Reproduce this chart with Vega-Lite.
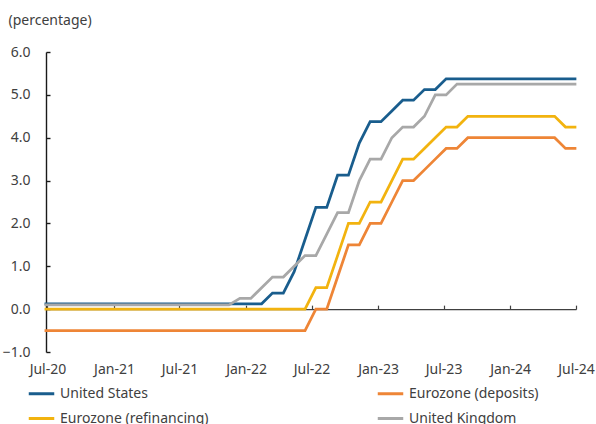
{
  "$schema": "https://vega.github.io/schema/vega-lite/v6.json",
  "width": 530,
  "height": 300,
  "autosize": "none",
  "padding": {"left": 46, "top": 52, "right": 20, "bottom": 72},
  "background": "white",
  "config": {"font": "Noto Sans", "view": {"stroke": null}},
  "data": {"values": [
    {"series":"Eurozone (deposits)","date":"2020-06-23","rate":-0.5},
    {"series":"Eurozone (deposits)","date":"2020-07-23","rate":-0.5},
    {"series":"Eurozone (deposits)","date":"2020-08-22","rate":-0.5},
    {"series":"Eurozone (deposits)","date":"2020-09-21","rate":-0.5},
    {"series":"Eurozone (deposits)","date":"2020-10-21","rate":-0.5},
    {"series":"Eurozone (deposits)","date":"2020-11-20","rate":-0.5},
    {"series":"Eurozone (deposits)","date":"2020-12-20","rate":-0.5},
    {"series":"Eurozone (deposits)","date":"2021-01-19","rate":-0.5},
    {"series":"Eurozone (deposits)","date":"2021-02-18","rate":-0.5},
    {"series":"Eurozone (deposits)","date":"2021-03-20","rate":-0.5},
    {"series":"Eurozone (deposits)","date":"2021-04-19","rate":-0.5},
    {"series":"Eurozone (deposits)","date":"2021-05-19","rate":-0.5},
    {"series":"Eurozone (deposits)","date":"2021-06-18","rate":-0.5},
    {"series":"Eurozone (deposits)","date":"2021-07-18","rate":-0.5},
    {"series":"Eurozone (deposits)","date":"2021-08-17","rate":-0.5},
    {"series":"Eurozone (deposits)","date":"2021-09-16","rate":-0.5},
    {"series":"Eurozone (deposits)","date":"2021-10-16","rate":-0.5},
    {"series":"Eurozone (deposits)","date":"2021-11-15","rate":-0.5},
    {"series":"Eurozone (deposits)","date":"2021-12-15","rate":-0.5},
    {"series":"Eurozone (deposits)","date":"2022-01-14","rate":-0.5},
    {"series":"Eurozone (deposits)","date":"2022-02-13","rate":-0.5},
    {"series":"Eurozone (deposits)","date":"2022-03-15","rate":-0.5},
    {"series":"Eurozone (deposits)","date":"2022-04-14","rate":-0.5},
    {"series":"Eurozone (deposits)","date":"2022-05-14","rate":-0.5},
    {"series":"Eurozone (deposits)","date":"2022-06-13","rate":-0.5},
    {"series":"Eurozone (deposits)","date":"2022-07-13","rate":0.0},
    {"series":"Eurozone (deposits)","date":"2022-08-12","rate":0.0},
    {"series":"Eurozone (deposits)","date":"2022-09-11","rate":0.75},
    {"series":"Eurozone (deposits)","date":"2022-10-11","rate":1.5},
    {"series":"Eurozone (deposits)","date":"2022-11-10","rate":1.5},
    {"series":"Eurozone (deposits)","date":"2022-12-10","rate":2.0},
    {"series":"Eurozone (deposits)","date":"2023-01-09","rate":2.0},
    {"series":"Eurozone (deposits)","date":"2023-02-08","rate":2.5},
    {"series":"Eurozone (deposits)","date":"2023-03-10","rate":3.0},
    {"series":"Eurozone (deposits)","date":"2023-04-09","rate":3.0},
    {"series":"Eurozone (deposits)","date":"2023-05-09","rate":3.25},
    {"series":"Eurozone (deposits)","date":"2023-06-08","rate":3.5},
    {"series":"Eurozone (deposits)","date":"2023-07-08","rate":3.75},
    {"series":"Eurozone (deposits)","date":"2023-08-07","rate":3.75},
    {"series":"Eurozone (deposits)","date":"2023-09-06","rate":4.0},
    {"series":"Eurozone (deposits)","date":"2023-10-06","rate":4.0},
    {"series":"Eurozone (deposits)","date":"2023-11-05","rate":4.0},
    {"series":"Eurozone (deposits)","date":"2023-12-05","rate":4.0},
    {"series":"Eurozone (deposits)","date":"2024-01-04","rate":4.0},
    {"series":"Eurozone (deposits)","date":"2024-02-03","rate":4.0},
    {"series":"Eurozone (deposits)","date":"2024-03-04","rate":4.0},
    {"series":"Eurozone (deposits)","date":"2024-04-03","rate":4.0},
    {"series":"Eurozone (deposits)","date":"2024-05-03","rate":4.0},
    {"series":"Eurozone (deposits)","date":"2024-06-02","rate":3.75},
    {"series":"Eurozone (deposits)","date":"2024-07-02","rate":3.75},
    {"series":"Eurozone (refinancing)","date":"2020-06-23","rate":0.0},
    {"series":"Eurozone (refinancing)","date":"2020-07-23","rate":0.0},
    {"series":"Eurozone (refinancing)","date":"2020-08-22","rate":0.0},
    {"series":"Eurozone (refinancing)","date":"2020-09-21","rate":0.0},
    {"series":"Eurozone (refinancing)","date":"2020-10-21","rate":0.0},
    {"series":"Eurozone (refinancing)","date":"2020-11-20","rate":0.0},
    {"series":"Eurozone (refinancing)","date":"2020-12-20","rate":0.0},
    {"series":"Eurozone (refinancing)","date":"2021-01-19","rate":0.0},
    {"series":"Eurozone (refinancing)","date":"2021-02-18","rate":0.0},
    {"series":"Eurozone (refinancing)","date":"2021-03-20","rate":0.0},
    {"series":"Eurozone (refinancing)","date":"2021-04-19","rate":0.0},
    {"series":"Eurozone (refinancing)","date":"2021-05-19","rate":0.0},
    {"series":"Eurozone (refinancing)","date":"2021-06-18","rate":0.0},
    {"series":"Eurozone (refinancing)","date":"2021-07-18","rate":0.0},
    {"series":"Eurozone (refinancing)","date":"2021-08-17","rate":0.0},
    {"series":"Eurozone (refinancing)","date":"2021-09-16","rate":0.0},
    {"series":"Eurozone (refinancing)","date":"2021-10-16","rate":0.0},
    {"series":"Eurozone (refinancing)","date":"2021-11-15","rate":0.0},
    {"series":"Eurozone (refinancing)","date":"2021-12-15","rate":0.0},
    {"series":"Eurozone (refinancing)","date":"2022-01-14","rate":0.0},
    {"series":"Eurozone (refinancing)","date":"2022-02-13","rate":0.0},
    {"series":"Eurozone (refinancing)","date":"2022-03-15","rate":0.0},
    {"series":"Eurozone (refinancing)","date":"2022-04-14","rate":0.0},
    {"series":"Eurozone (refinancing)","date":"2022-05-14","rate":0.0},
    {"series":"Eurozone (refinancing)","date":"2022-06-13","rate":0.0},
    {"series":"Eurozone (refinancing)","date":"2022-07-13","rate":0.5},
    {"series":"Eurozone (refinancing)","date":"2022-08-12","rate":0.5},
    {"series":"Eurozone (refinancing)","date":"2022-09-11","rate":1.25},
    {"series":"Eurozone (refinancing)","date":"2022-10-11","rate":2.0},
    {"series":"Eurozone (refinancing)","date":"2022-11-10","rate":2.0},
    {"series":"Eurozone (refinancing)","date":"2022-12-10","rate":2.5},
    {"series":"Eurozone (refinancing)","date":"2023-01-09","rate":2.5},
    {"series":"Eurozone (refinancing)","date":"2023-02-08","rate":3.0},
    {"series":"Eurozone (refinancing)","date":"2023-03-10","rate":3.5},
    {"series":"Eurozone (refinancing)","date":"2023-04-09","rate":3.5},
    {"series":"Eurozone (refinancing)","date":"2023-05-09","rate":3.75},
    {"series":"Eurozone (refinancing)","date":"2023-06-08","rate":4.0},
    {"series":"Eurozone (refinancing)","date":"2023-07-08","rate":4.25},
    {"series":"Eurozone (refinancing)","date":"2023-08-07","rate":4.25},
    {"series":"Eurozone (refinancing)","date":"2023-09-06","rate":4.5},
    {"series":"Eurozone (refinancing)","date":"2023-10-06","rate":4.5},
    {"series":"Eurozone (refinancing)","date":"2023-11-05","rate":4.5},
    {"series":"Eurozone (refinancing)","date":"2023-12-05","rate":4.5},
    {"series":"Eurozone (refinancing)","date":"2024-01-04","rate":4.5},
    {"series":"Eurozone (refinancing)","date":"2024-02-03","rate":4.5},
    {"series":"Eurozone (refinancing)","date":"2024-03-04","rate":4.5},
    {"series":"Eurozone (refinancing)","date":"2024-04-03","rate":4.5},
    {"series":"Eurozone (refinancing)","date":"2024-05-03","rate":4.5},
    {"series":"Eurozone (refinancing)","date":"2024-06-02","rate":4.25},
    {"series":"Eurozone (refinancing)","date":"2024-07-02","rate":4.25},
    {"series":"United States","date":"2020-06-23","rate":0.125},
    {"series":"United States","date":"2020-07-23","rate":0.125},
    {"series":"United States","date":"2020-08-22","rate":0.125},
    {"series":"United States","date":"2020-09-21","rate":0.125},
    {"series":"United States","date":"2020-10-21","rate":0.125},
    {"series":"United States","date":"2020-11-20","rate":0.125},
    {"series":"United States","date":"2020-12-20","rate":0.125},
    {"series":"United States","date":"2021-01-19","rate":0.125},
    {"series":"United States","date":"2021-02-18","rate":0.125},
    {"series":"United States","date":"2021-03-20","rate":0.125},
    {"series":"United States","date":"2021-04-19","rate":0.125},
    {"series":"United States","date":"2021-05-19","rate":0.125},
    {"series":"United States","date":"2021-06-18","rate":0.125},
    {"series":"United States","date":"2021-07-18","rate":0.125},
    {"series":"United States","date":"2021-08-17","rate":0.125},
    {"series":"United States","date":"2021-09-16","rate":0.125},
    {"series":"United States","date":"2021-10-16","rate":0.125},
    {"series":"United States","date":"2021-11-15","rate":0.125},
    {"series":"United States","date":"2021-12-15","rate":0.125},
    {"series":"United States","date":"2022-01-14","rate":0.125},
    {"series":"United States","date":"2022-02-13","rate":0.125},
    {"series":"United States","date":"2022-03-15","rate":0.375},
    {"series":"United States","date":"2022-04-14","rate":0.375},
    {"series":"United States","date":"2022-05-14","rate":0.875},
    {"series":"United States","date":"2022-06-13","rate":1.625},
    {"series":"United States","date":"2022-07-13","rate":2.375},
    {"series":"United States","date":"2022-08-12","rate":2.375},
    {"series":"United States","date":"2022-09-11","rate":3.125},
    {"series":"United States","date":"2022-10-11","rate":3.125},
    {"series":"United States","date":"2022-11-10","rate":3.875},
    {"series":"United States","date":"2022-12-10","rate":4.375},
    {"series":"United States","date":"2023-01-09","rate":4.375},
    {"series":"United States","date":"2023-02-08","rate":4.625},
    {"series":"United States","date":"2023-03-10","rate":4.875},
    {"series":"United States","date":"2023-04-09","rate":4.875},
    {"series":"United States","date":"2023-05-09","rate":5.125},
    {"series":"United States","date":"2023-06-08","rate":5.125},
    {"series":"United States","date":"2023-07-08","rate":5.375},
    {"series":"United States","date":"2023-08-07","rate":5.375},
    {"series":"United States","date":"2023-09-06","rate":5.375},
    {"series":"United States","date":"2023-10-06","rate":5.375},
    {"series":"United States","date":"2023-11-05","rate":5.375},
    {"series":"United States","date":"2023-12-05","rate":5.375},
    {"series":"United States","date":"2024-01-04","rate":5.375},
    {"series":"United States","date":"2024-02-03","rate":5.375},
    {"series":"United States","date":"2024-03-04","rate":5.375},
    {"series":"United States","date":"2024-04-03","rate":5.375},
    {"series":"United States","date":"2024-05-03","rate":5.375},
    {"series":"United States","date":"2024-06-02","rate":5.375},
    {"series":"United States","date":"2024-07-02","rate":5.375},
    {"series":"United Kingdom","date":"2020-06-23","rate":0.1},
    {"series":"United Kingdom","date":"2020-07-23","rate":0.1},
    {"series":"United Kingdom","date":"2020-08-22","rate":0.1},
    {"series":"United Kingdom","date":"2020-09-21","rate":0.1},
    {"series":"United Kingdom","date":"2020-10-21","rate":0.1},
    {"series":"United Kingdom","date":"2020-11-20","rate":0.1},
    {"series":"United Kingdom","date":"2020-12-20","rate":0.1},
    {"series":"United Kingdom","date":"2021-01-19","rate":0.1},
    {"series":"United Kingdom","date":"2021-02-18","rate":0.1},
    {"series":"United Kingdom","date":"2021-03-20","rate":0.1},
    {"series":"United Kingdom","date":"2021-04-19","rate":0.1},
    {"series":"United Kingdom","date":"2021-05-19","rate":0.1},
    {"series":"United Kingdom","date":"2021-06-18","rate":0.1},
    {"series":"United Kingdom","date":"2021-07-18","rate":0.1},
    {"series":"United Kingdom","date":"2021-08-17","rate":0.1},
    {"series":"United Kingdom","date":"2021-09-16","rate":0.1},
    {"series":"United Kingdom","date":"2021-10-16","rate":0.1},
    {"series":"United Kingdom","date":"2021-11-15","rate":0.1},
    {"series":"United Kingdom","date":"2021-12-15","rate":0.25},
    {"series":"United Kingdom","date":"2022-01-14","rate":0.25},
    {"series":"United Kingdom","date":"2022-02-13","rate":0.5},
    {"series":"United Kingdom","date":"2022-03-15","rate":0.75},
    {"series":"United Kingdom","date":"2022-04-14","rate":0.75},
    {"series":"United Kingdom","date":"2022-05-14","rate":1.0},
    {"series":"United Kingdom","date":"2022-06-13","rate":1.25},
    {"series":"United Kingdom","date":"2022-07-13","rate":1.25},
    {"series":"United Kingdom","date":"2022-08-12","rate":1.75},
    {"series":"United Kingdom","date":"2022-09-11","rate":2.25},
    {"series":"United Kingdom","date":"2022-10-11","rate":2.25},
    {"series":"United Kingdom","date":"2022-11-10","rate":3.0},
    {"series":"United Kingdom","date":"2022-12-10","rate":3.5},
    {"series":"United Kingdom","date":"2023-01-09","rate":3.5},
    {"series":"United Kingdom","date":"2023-02-08","rate":4.0},
    {"series":"United Kingdom","date":"2023-03-10","rate":4.25},
    {"series":"United Kingdom","date":"2023-04-09","rate":4.25},
    {"series":"United Kingdom","date":"2023-05-09","rate":4.5},
    {"series":"United Kingdom","date":"2023-06-08","rate":5.0},
    {"series":"United Kingdom","date":"2023-07-08","rate":5.0},
    {"series":"United Kingdom","date":"2023-08-07","rate":5.25},
    {"series":"United Kingdom","date":"2023-09-06","rate":5.25},
    {"series":"United Kingdom","date":"2023-10-06","rate":5.25},
    {"series":"United Kingdom","date":"2023-11-05","rate":5.25},
    {"series":"United Kingdom","date":"2023-12-05","rate":5.25},
    {"series":"United Kingdom","date":"2024-01-04","rate":5.25},
    {"series":"United Kingdom","date":"2024-02-03","rate":5.25},
    {"series":"United Kingdom","date":"2024-03-04","rate":5.25},
    {"series":"United Kingdom","date":"2024-04-03","rate":5.25},
    {"series":"United Kingdom","date":"2024-05-03","rate":5.25},
    {"series":"United Kingdom","date":"2024-06-02","rate":5.25},
    {"series":"United Kingdom","date":"2024-07-02","rate":5.25}
  ]},
  "mark": {"type": "line", "strokeWidth": 2.75, "clip": false},
  "encoding": {
    "x": {
      "field": "date", "type": "temporal",
      "scale": {"type": "utc", "domain": [{"year": 2020, "month": 6, "date": 27, "utc": true}, {"year": 2024, "month": 7, "date": 1, "utc": true}]},
      "axis": {
        "title": null,
        "values": [
          {"year": 2020, "month": 7, "date": 1, "utc": true},
          {"year": 2021, "month": 1, "date": 1, "utc": true},
          {"year": 2021, "month": 7, "date": 1, "utc": true},
          {"year": 2022, "month": 1, "date": 1, "utc": true},
          {"year": 2022, "month": 7, "date": 1, "utc": true},
          {"year": 2023, "month": 1, "date": 1, "utc": true},
          {"year": 2023, "month": 7, "date": 1, "utc": true},
          {"year": 2024, "month": 1, "date": 1, "utc": true},
          {"year": 2024, "month": 7, "date": 1, "utc": true}
        ],
        "format": "%b-%y",
        "offset": -42.857,
        "domainColor": "#404040",
        "domainWidth": 1.2,
        "tickColor": "#404040",
        "tickSize": -4,
        "tickWidth": 1.2,
        "labelPadding": 57,
        "labelFontSize": 14,
        "labelColor": "#404040",
        "labelOverlap": false,
        "labelFlush": false,
        "grid": false
      }
    },
    "y": {
      "field": "rate", "type": "quantitative",
      "scale": {"domain": [-1, 6], "nice": false, "zero": false},
      "axis": {
        "values": [-1, 0, 1, 2, 3, 4, 5, 6],
        "format": ".1f",
        "grid": false,
        "domainColor": "#1a1a1a",
        "domainWidth": 1.4,
        "tickColor": "#1a1a1a",
        "tickSize": -4,
        "tickWidth": 1.4,
        "labelPadding": 20,
        "labelFontSize": 14,
        "labelColor": "#404040",
        "title": "(percentage)",
        "titleAngle": 0,
        "titleX": -38,
        "titleY": -32,
        "titleAlign": "left",
        "titleBaseline": "middle",
        "titleFontSize": 14,
        "titleFontWeight": "normal",
        "titleColor": "#404040"
      }
    },
    "color": {
      "field": "series", "type": "nominal",
      "sort": ["United States", "Eurozone (deposits)", "Eurozone (refinancing)", "United Kingdom"],
      "scale": {
        "domain": ["United States", "Eurozone (deposits)", "Eurozone (refinancing)", "United Kingdom"],
        "range": ["#195D8D", "#EE8536", "#F2B30F", "#A8A8A8"]
      },
      "legend": {
        "title": null,
        "orient": "none",
        "legendX": -19,
        "legendY": 327,
        "direction": "horizontal",
        "columns": 2,
        "columnPadding": 162,
        "rowPadding": 3,
        "padding": 0,
        "symbolType": "stroke",
        "symbolSize": 650,
        "symbolStrokeWidth": 3,
        "labelFontSize": 14,
        "labelColor": "#404040",
        "labelOffset": 4,
        "labelLimit": 300
      }
    }
  }
}
